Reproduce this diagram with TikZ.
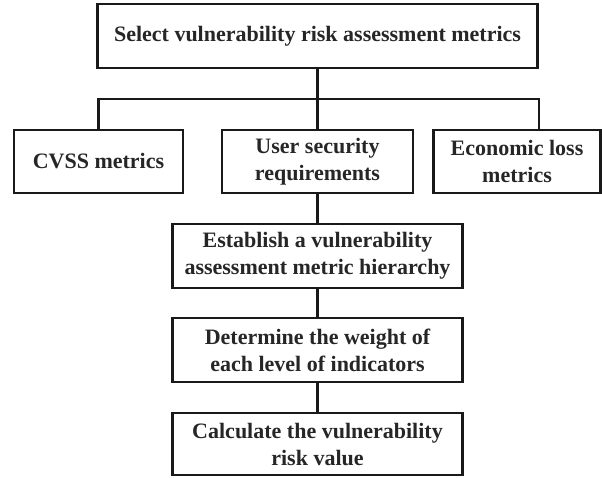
\documentclass[tikz,border=0pt]{standalone}
\usepackage{fontspec}
\setmainfont{Liberation Serif}
\begin{document}
\begin{tikzpicture}[x=1pt,y=-1pt,
  box/.style={draw=black!90, line width=2.6pt, rectangle, align=center, inner sep=0pt,
    font=\fontsize{22}{27}\selectfont\bfseries, text=black!85},
  conn/.style={draw=black!90, line width=2.6pt}]
\useasboundingbox (0,0) rectangle (602,477);
\node[box, minimum width=440pt, minimum height=64pt] (top) at (317.5,36) {Select vulnerability risk assessment metrics};
\node[box, minimum width=169pt, minimum height=63pt] (cvss) at (98.5,161.5) {CVSS metrics};
\node[box, minimum width=191pt, minimum height=63pt] (user) at (317.5,161.5) {User security\\requirements};
\node[box, minimum width=167pt, minimum height=63pt] (econ) at (517,161.5) {Economic loss\\metrics};
\node[box, minimum width=290pt, minimum height=64pt] (est) at (317.5,256) {Establish a vulnerability\\assessment metric hierarchy};
\node[box, minimum width=290pt, minimum height=64pt] (det) at (317.5,350) {Determine the weight of\\each level of indicators};
\node[box, minimum width=290pt, minimum height=62pt] (calc) at (317.5,444) {Calculate the vulnerability\\risk value};
\coordinate (bus) at (317.5,99);
\coordinate (econtop) at (539,130);
\draw[conn] (top) -- (user);
\draw[conn] (cvss.north) |- (bus) -| (econtop);
\draw[conn] (user) -- (est);
\draw[conn] (est) -- (det);
\draw[conn] (det) -- (calc);
\end{tikzpicture}
\end{document}
